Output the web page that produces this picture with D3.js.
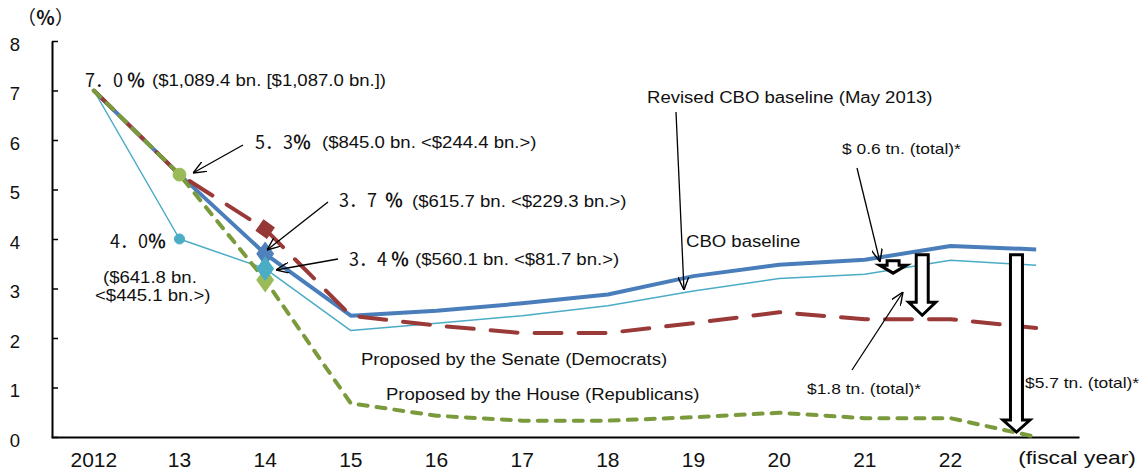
<!DOCTYPE html>
<html>
<head>
<meta charset="utf-8">
<script src="https://cdn.jsdelivr.net/npm/d3@7"></script>
<style>
  body { margin: 0; background: #fff; }
  svg { display: block; }
  text { font-family: "Liberation Sans", Arial, sans-serif; fill: #111; }
</style>
</head>
<body>
<div id="chart"></div>
<script>
// fiscal years on the x axis (the last slot carries the "(fiscal year)" label)
const years = ['2012', '13', '14', '15', '16', '17', '18', '19', '20', '21', '22', '23'];
const yearLabels = ['2012', '13', '14', '15', '16', '17', '18', '19', '20', '21', '22', '(fiscal year)'];
const yTicks = [0, 1, 2, 3, 4, 5, 6, 7, 8];

// deficit as % of GDP
const revisedCBO  = [7.0, 5.3, 3.7, 2.45, 2.55, 2.7, 2.88, 3.25, 3.48, 3.58, 3.86, 3.79];
const cboBaseline = [7.0, 4.0, 3.4, 2.15, 2.3, 2.45, 2.65, 2.95, 3.2, 3.29, 3.57, 3.47];
const senatePlan  = [7.0, 5.3, 4.2, 2.45, 2.25, 2.1, 2.1, 2.3, 2.52, 2.38, 2.38, 2.2];
const housePlan   = [7.0, 5.3, 3.17, 0.68, 0.43, 0.33, 0.33, 0.4, 0.49, 0.38, 0.38, 0.0];

// highlighted points
const markers = [
  { series: 'senate', year: '14', shape: 'square' },
  { series: 'revised', year: '14', shape: 'diamond' },
  { series: 'house', year: '14', shape: 'diamond' },
  { series: 'cbo', year: '14', shape: 'diamond' },
  { series: 'house', year: '13', shape: 'circle' },
  { series: 'cbo', year: '13', shape: 'circle' }
];

// hollow "cut" arrows: position in category steps from 2012, value range
const cuts = [
  { at: 9.33, from: 3.56, to: 3.31, head: 8 },
  { at: 9.67, from: 3.68, to: 2.46, head: 13 },
  { at: 10.77, from: 3.68, to: 0.1, head: 12 }
];

const W = 1147, H = 472;

const seriesStyle = {
  revised: { data: revisedCBO, color: '#4A7EBB', width: 4, dash: null, fill: '#4F81BD' },
  cbo:     { data: cboBaseline, color: '#4BACC6', width: 1.5, dash: null, fill: '#4BACC6' },
  senate:  { data: senatePlan, color: '#9A3A38', width: 4, dash: '27,17', fill: '#953735' },
  house:   { data: housePlan, color: '#7A9A3C', width: 4, dash: '9,9', fill: '#9BBB59' }
};

const svg = d3.select('#chart')
  .append('svg')
  .attr('width', W)
  .attr('height', H);

const x = d3.scaleBand().domain(years).range([51, 1079]);
const cx = d => x(d) + x.bandwidth() / 2;
const y = d3.scaleLinear().domain([0, 8]).range([437, 41]);

svg.append('defs').append('marker')
  .attr('id', 'tip')
  .attr('markerUnits', 'userSpaceOnUse')
  .attr('viewBox', '0 0 12 10')
  .attr('refX', 12).attr('refY', 5)
  .attr('markerWidth', 13).attr('markerHeight', 11)
  .attr('orient', 'auto')
  .append('path')
  .attr('d', 'M0,0 L12,5 L0,10')
  .attr('fill', 'none')
  .attr('stroke', '#000')
  .attr('stroke-width', 1.3);

// y axis, ticks pointing inward
const yAxis = svg.append('g')
  .attr('transform', 'translate(52,0)')
  .call(d3.axisLeft(y).tickValues(yTicks).tickSize(-6).tickSizeOuter(0).tickPadding(32));
yAxis.select('.domain').attr('stroke', '#000').attr('stroke-width', 2);
yAxis.selectAll('.tick line').attr('stroke', '#000').attr('stroke-width', 1.5);
yAxis.selectAll('.tick text')
  .attr('dy', '0.5em')
  .style('font-size', '18.5px')
  .style('font-family', '"Liberation Sans", Arial, sans-serif')
  .attr('fill', '#111');

// x axis
const xAxis = svg.append('g')
  .attr('transform', `translate(0,${y(0)})`)
  .call(d3.axisBottom(x).tickSize(0).tickSizeOuter(0).tickPadding(15)
    .tickFormat((d, i) => yearLabels[i]));
xAxis.select('.domain').attr('stroke', '#000').attr('stroke-width', 2);
xAxis.selectAll('.tick text')
  .style('font-size', '21px')
  .style('font-family', '"Liberation Sans", Arial, sans-serif')
  .attr('fill', '#111');
xAxis.selectAll('.tick text').filter((d, i) => i === years.length - 1)
  .style('font-size', '19px')
  .attr('text-anchor', 'start')
  .attr('transform', 'translate(-18,-1) scale(1.2,1)');

const unit = svg.append('text')
  .attr('x', 17).attr('y', 25)
  .style('font-family', '"Noto Sans CJK JP", sans-serif')
  .style('font-size', '19px');
unit.append('tspan').text('（');
unit.append('tspan').style('font-weight', 'bold').text('％');
unit.append('tspan').text('）');

// lines
const line = d3.line()
  .x((d, i) => cx(years[i]))
  .y(d => y(d));

['revised', 'cbo', 'senate', 'house'].forEach(k => {
  const s = seriesStyle[k];
  svg.append('path')
    .datum(s.data)
    .attr('d', line)
    .attr('fill', 'none')
    .attr('stroke', s.color)
    .attr('stroke-width', s.width)
    .attr('stroke-linejoin', 'round')
    .attr('stroke-linecap', s.dash ? 'round' : 'butt')
    .attr('stroke-dasharray', s.dash);
});

// markers
const shapeOf = { square: d3.symbolSquare, diamond: d3.symbolDiamond, circle: d3.symbolCircle };
const sizeOf = { square: 170, diamond: 150, circle: 130 };
markers.forEach(m => {
  const s = seriesStyle[m.series];
  const v = s.data[years.indexOf(m.year)];
  const size = (m.series === 'cbo' && m.shape === 'circle') ? 80 : sizeOf[m.shape];
  svg.append('path')
    .attr('d', d3.symbol().type(shapeOf[m.shape]).size(size)())
    .attr('transform', `translate(${cx(m.year)},${y(v)}) rotate(${m.shape === 'square' ? 35 : 0})` +
      (m.shape === 'diamond' ? ' scale(1.25,1)' : ''))
    .attr('fill', s.fill)
    .attr('stroke', s.fill)
    .attr('stroke-width', 1);
});

// hollow down arrows
const step = x.step();
cuts.forEach(c => {
  const px = cx(years[0]) + c.at * step;
  const top = y(c.from), tip = y(c.to);
  const sw = 12, hw = 27, neck = tip - c.head;
  const pts = [
    [px - sw / 2, top], [px + sw / 2, top], [px + sw / 2, neck], [px + hw / 2, neck],
    [px, tip], [px - hw / 2, neck], [px - sw / 2, neck]
  ];
  svg.append('path')
    .attr('d', 'M' + pts.map(p => p.join(',')).join('L') + 'Z')
    .attr('fill', '#fff')
    .attr('stroke', '#000')
    .attr('stroke-width', 3)
    .attr('stroke-linejoin', 'miter');
});

// callout lines
const callouts = [
  [[243, 145], [193, 173]],
  [[328, 202], [267, 250]],
  [[338, 259], [276, 270]],
  [[676, 112], [684, 290]],
  [[857, 168], [880, 262]],
  [[852, 370], [903, 292]]
];
callouts.forEach(([a, b]) => {
  svg.append('line')
    .attr('x1', a[0]).attr('y1', a[1])
    .attr('x2', b[0]).attr('y2', b[1])
    .attr('stroke', '#000')
    .attr('stroke-width', 1.3)
    .attr('marker-end', 'url(#tip)');
});

// annotation texts
const notes = [
  { t: '($1,089.4 bn. [$1,087.0 bn.])', x: 152, y: 86, size: 16 },
  { t: '($845.0 bn. <$244.4 bn.>)', x: 322, y: 148, size: 16 },
  { t: '($615.7 bn. <$229.3 bn.>)', x: 412, y: 207, size: 16 },
  { t: '($560.1 bn. <$81.7 bn.>)', x: 415, y: 265, size: 16 },
  { t: '($641.8 bn.', x: 103, y: 283, size: 16 },
  { t: '<$445.1 bn.>)', x: 95, y: 301, size: 16 },
  { t: 'Revised CBO baseline (May 2013)', x: 647, y: 103, size: 16 },
  { t: 'CBO baseline', x: 686, y: 247, size: 16 },
  { t: '$ 0.6 tn. (total)*', x: 842, y: 154, size: 15 },
  { t: 'Proposed by the Senate (Democrats)', x: 361, y: 365, size: 16 },
  { t: 'Proposed by the House (Republicans)', x: 386, y: 400, size: 16 },
  { t: '$1.8 tn. (total)*', x: 807, y: 394, size: 15 },
  { t: '$5.7 tn. (total)*', x: 1025, y: 388, size: 15 }
];
notes.forEach(n => {
  svg.append('text')
    .attr('transform', `translate(${n.x},${n.y}) scale(1.16,1)`)
    .style('font-size', n.size + 'px')
    .text(n.t);
});

const pcts = [
  { t: '7．0\u00a0', x: 85, y: 87 },
  { t: '5．3', x: 255, y: 149 },
  { t: '3．7\u00a0\u00a0', x: 339, y: 207 },
  { t: '3．4\u00a0', x: 349, y: 266 },
  { t: '4．0', x: 110, y: 248 }
];
pcts.forEach(p => {
  const t = svg.append('text')
    .attr('x', p.x).attr('y', p.y)
    .style('font-family', '"Noto Sans CJK JP", sans-serif')
    .style('font-size', '18px')
    .style('white-space', 'pre');
  t.append('tspan').text(p.t);
  t.append('tspan').style('font-weight', 'bold').text('％');
});
</script>
</body>
</html>
